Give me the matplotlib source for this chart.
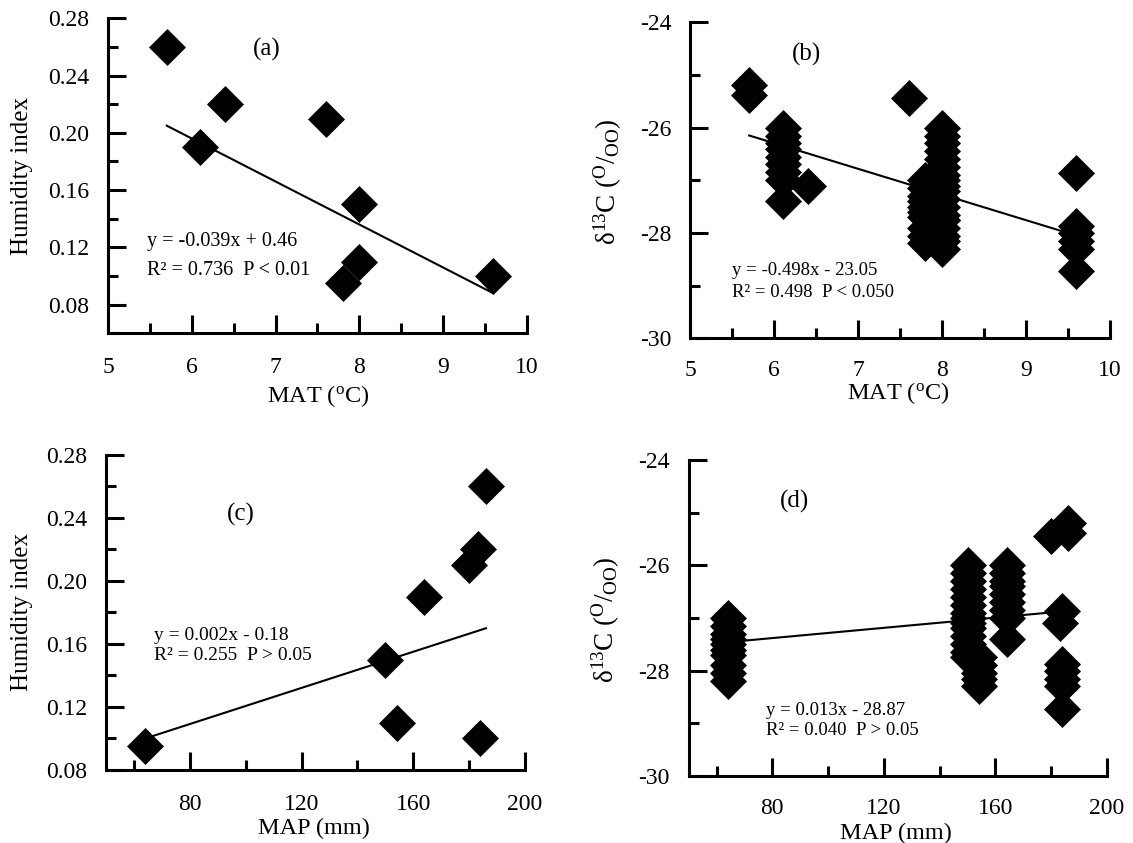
import numpy as np
import matplotlib.pyplot as plt
from matplotlib.ticker import MultipleLocator, FormatStrFormatter

plt.rcParams['font.family'] = ['Liberation Serif', 'DejaVu Serif']
plt.rcParams['mathtext.fontset'] = 'custom'
plt.rcParams['mathtext.rm'] = 'Liberation Serif'
plt.rcParams['mathtext.it'] = 'Liberation Serif:italic'

# sites: MAT (oC), MAP (mm), humidity index
site_mat = [5.7, 6.1, 6.4, 7.6, 8.0, 8.0, 7.8, 9.6]
site_map = [186, 164, 183, 180, 150, 154, 64, 184]
site_hi = [0.26, 0.19, 0.22, 0.21, 0.15, 0.11, 0.095, 0.10]

# d13C of the samples at each site (same order as above)
d13c_by_site = [
    [-25.2, -25.38],
    [-26.0, -26.15, -26.3, -26.4, -26.55, -26.7, -26.85, -27.0, -27.4],
    [-27.1],
    [-25.44],
    [-26.0, -26.15, -26.3, -26.45, -26.6, -26.75, -26.9, -27.0, -27.1,
     -27.2, -27.35, -27.5, -27.65, -27.75],
    [-27.75, -27.9, -28.05, -28.15, -28.3],
    [-27.0, -27.15, -27.3, -27.4, -27.5, -27.6, -27.7, -27.9, -28.05, -28.2],
    [-26.87, -27.87, -28.0, -28.15, -28.3, -28.72],
]

# trend lines as drawn in the figure (end points)
fit_a_x = [5.7, 9.6]
fit_a_y = [0.205, 0.088]
fit_b_x = [5.7, 9.6]
fit_b_y = [-26.15, -28.05]
fit_c_x = [64, 186]
fit_c_y = [0.10, 0.17]
fit_d_x = [64, 179]
fit_d_y = [-27.46, -26.9]

n_per_site = [len(v) for v in d13c_by_site]
mat_rep = np.repeat(site_mat, n_per_site)
map_rep = np.repeat(site_map, n_per_site)
d13c = np.concatenate(d13c_by_site)

fig = plt.figure(figsize=(11.33, 8.43), dpi=100)
ax_a = fig.add_axes([0.0955, 0.6046, 0.3694, 0.3737])
ax_b = fig.add_axes([0.6094, 0.5987, 0.3703, 0.3749])
ax_c = fig.add_axes([0.0936, 0.0866, 0.3698, 0.3737])
ax_d = fig.add_axes([0.6078, 0.0795, 0.3693, 0.3749])

mk = dict(marker='D', ms=18, color='black', mec='black', mew=0.5, ls='none')


def style(ax, xlim, ylim, xmaj, xmin, ymaj, ymin, yfmt, xpad, ypad):
    ax.set_xlim(xlim)
    ax.set_ylim(ylim)
    ax.spines[['top', 'right']].set_visible(False)
    ax.spines['left'].set_linewidth(2.2)
    ax.spines['bottom'].set_linewidth(2.2)
    ax.xaxis.set_major_locator(MultipleLocator(xmaj))
    ax.xaxis.set_minor_locator(MultipleLocator(xmin))
    ax.yaxis.set_major_locator(MultipleLocator(ymaj))
    ax.yaxis.set_minor_locator(MultipleLocator(ymin))
    ax.yaxis.set_major_formatter(FormatStrFormatter(yfmt))
    ax.tick_params(which='both', direction='in', width=2.2, labelsize=17)
    ax.tick_params(which='major', length=13.2)
    ax.tick_params(which='minor', length=7.2)
    ax.tick_params(axis='x', pad=xpad)
    ax.tick_params(axis='y', pad=ypad)


def labels(ax, xl, yl, xpos, ypos, ysize=18):
    ax.set_xlabel(xl, fontsize=17.5)
    ax.set_ylabel(yl, fontsize=ysize)
    ax.xaxis.set_label_coords(*xpos)
    ax.yaxis.set_label_coords(*ypos)
    ax.xaxis.label.set_va('center')
    ax.yaxis.label.set_va('center')


d13c_label = 'δ$^{\\mathrm{13}}$C ($^{\\mathrm{O}}$/$_{\\mathrm{OO}}$)'
mat_label = 'MAT ($^{\\mathrm{o}}$C)'

# (a)
ax_a.plot(site_mat, site_hi, **mk)
ax_a.plot(fit_a_x, fit_a_y, color='black', lw=1.5)
style(ax_a, (5, 10), (0.06, 0.28), 1, 0.5, 0.04, 0.02, '%.2f', 17, 13.5)
labels(ax_a, mat_label, 'Humidity index', (0.501, -0.20), (-0.205, 0.5))
ax_a.text(6.89, 0.258, '(a)', fontsize=18, ha='center', va='center')
ax_a.text(5.46, 0.1207, 'y = -0.039x + 0.46', fontsize=14.5)
ax_a.text(5.46, 0.101, 'R² = 0.736  P < 0.01', fontsize=14.5)

# (b)
ax_b.plot(mat_rep, d13c, **mk)
ax_b.plot(fit_b_x, fit_b_y, color='black', lw=1.5)
style(ax_b, (5, 10), (-30, -24), 1, 0.5, 2, 1, '%d', 15.5, 13.5)
labels(ax_b, mat_label, d13c_label, (0.495, -0.174), (-0.198, 0.496), 19.5)
ax_b.text(6.38, -24.62, '(b)', fontsize=18, ha='center', va='center')
ax_b.text(5.49, -28.80, 'y = -0.498x - 23.05', fontsize=13.5)
ax_b.text(5.49, -29.21, 'R² = 0.498  P < 0.050', fontsize=13.5)

# (c)
ax_c.plot(site_map, site_hi, **mk)
ax_c.plot(fit_c_x, fit_c_y, color='black', lw=1.5)
style(ax_c, (50, 200), (0.08, 0.28), 40, 20, 0.04, 0.02, '%.2f', 17.5, 13.5)
labels(ax_c, 'MAP (mm)', 'Humidity index', (0.497, -0.185), (-0.2, 0.502))
ax_c.text(98.3, 0.242, '(c)', fontsize=18, ha='center', va='center')
ax_c.text(67.3, 0.1625, 'y = 0.002x - 0.18', fontsize=14)
ax_c.text(67.3, 0.150, 'R² = 0.255  P > 0.05', fontsize=14)

# (d)
ax_d.plot(map_rep, d13c, **mk)
ax_d.plot(fit_d_x, fit_d_y, color='black', lw=1.5)
style(ax_d, (50, 200), (-30, -24), 40, 20, 2, 1, '%d', 15.5, 13.5)
labels(ax_d, 'MAP (mm)', d13c_label, (0.496, -0.181), (-0.198, 0.494), 19.5)
ax_d.text(87.8, -24.79, '(d)', fontsize=18, ha='center', va='center')
ax_d.text(77.9, -28.84, 'y = 0.013x - 28.87', fontsize=13.5)
ax_d.text(77.9, -29.22, 'R² = 0.040  P > 0.05', fontsize=13.5)

fig.savefig('out.png', dpi=100)
